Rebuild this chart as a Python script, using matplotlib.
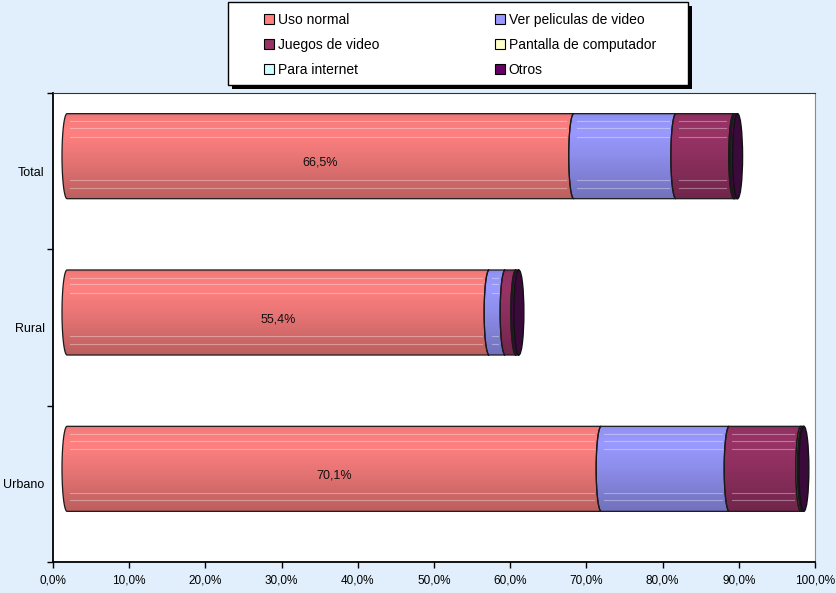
import numpy as np
import matplotlib.pyplot as plt
from matplotlib.patches import Polygon, Ellipse, Rectangle, Patch
from matplotlib.transforms import ScaledTranslation
from matplotlib.colors import to_rgb

plt.rcParams.update({'font.family': ['Liberation Sans', 'DejaVu Sans']})

categories = ['Urbano', 'Rural', 'Total']
series = ['Uso normal', 'Ver peliculas de video', 'Juegos de video',
          'Pantalla de computador', 'Para internet', 'Otros']
uso_normal = [70.1, 55.4, 66.5]
ver_peliculas = [16.8, 2.1, 13.4]
juegos_video = [9.4, 1.4, 7.6]
pantalla = [0.2, 0.1, 0.1]
internet = [0.0, 0.0, 0.1]
otros = [0.2, 0.3, 0.3]
xticks = [0, 10, 20, 30, 40, 50, 60, 70, 80, 90, 100]

colors = ['#FF8080', '#9999FF', '#993366', '#FFFFCC', '#CCFFFF', '#660066']
cap_color = '#3A0A3A'
BG = '#E0EFFB'

W, H, DPI = 836, 593, 100
fig = plt.figure(figsize=(W / DPI, H / DPI), dpi=DPI, facecolor=BG)
ax = fig.add_axes([53 / W, 1 - 562 / H, 762 / W, 469 / H], facecolor='white')
ax.set_xlim(0, 100)
ax.set_ylim(-0.5, 2.5)

# pseudo-3D: bars sit in front of the floor, shifted right and up
depth = ScaledTranslation(14 / DPI, 15 / DPI, fig.dpi_scale_trans)
tr = ax.transData + depth

bar_h = 0.544
a = 5.0 / (762 / 100)          # half-width of the end ellipses, in data units
t = np.linspace(0, np.pi, 40)


def shading(color, n=80):
    s = np.linspace(0, 1, n)
    f = np.interp(s, [0, 0.04, 0.22, 0.5, 1.0], [0.86, 0.96, 1.0, 0.92, 0.74])
    rgb = np.array(to_rgb(color))
    return np.clip(rgb[None, :] * f[:, None], 0, 1)[:, None, :]


def arc(x, yc):
    return np.column_stack([x - a * np.sin(t), yc + bar_h / 2 * np.cos(t)])


stack = np.array([uso_normal, ver_peliculas, juegos_video, pantalla, internet, otros])
for i, cat in enumerate(categories):
    left = 0.0
    for k, vals in enumerate(stack):
        v = vals[i]
        if v <= 0:
            continue
        x0, x1 = left, left + v
        verts = np.vstack([arc(x0, i), arc(x1, i)[::-1]])
        poly = Polygon(verts, closed=True, transform=tr, facecolor='none',
                       edgecolor='#1a1a1a', lw=0.9, zorder=3)
        ax.add_patch(poly)
        im = ax.imshow(shading(colors[k]), extent=(x0 - a, x1, i - bar_h / 2, i + bar_h / 2),
                       transform=tr, aspect='auto', interpolation='bilinear', zorder=2)
        im.set_clip_path(poly)
        if v > 2:
            for fr in [0.09, 0.17, 0.27, 0.78, 0.87]:
                yy = i + bar_h / 2 - fr * bar_h
                ln, = ax.plot([x0 + 0.4, x1 - a - 0.3], [yy, yy], color='white', alpha=0.35,
                              lw=0.8, transform=tr, zorder=2.5)
                ln.set_clip_path(poly)
        left = x1
    ax.add_patch(Ellipse((left, i), 2 * a, bar_h, transform=tr, facecolor=cap_color,
                         edgecolor='#111111', lw=1.0, zorder=4))
    ax.text(uso_normal[i] / 2, i - 0.042, f'{uso_normal[i]:.1f}%'.replace('.', ','),
            transform=tr, ha='center', va='center', fontsize=9,
            color='#111111', zorder=5)

# axes styling
ax.set_yticks(range(len(categories)))
ax.set_yticklabels(categories, fontsize=9)
ax.set_yticks([-0.5, 0.5, 1.5, 2.5], minor=True)
ax.tick_params(axis='y', which='major', length=0, pad=6)
ax.tick_params(axis='y', which='minor', length=4, width=1, direction='out')
ax.set_xticks(xticks)
ax.set_xticklabels([f'{v:.1f}%'.replace('.', ',') for v in xticks], fontsize=8.5)
ax.tick_params(axis='x', length=4, width=1, direction='out', pad=5)
for side in ['left', 'bottom']:
    ax.spines[side].set_linewidth(1.3)
    ax.spines[side].set_color('black')
ax.spines['top'].set_color('#333333')
ax.spines['right'].set_color('#8a8a8a')

# legend box with a hard drop shadow
bx, by, bw, bh = 228, 2, 460, 83
fig.patches.append(Rectangle(((bx + 4) / W, 1 - (by + bh + 4) / H), bw / W, bh / H,
                             transform=fig.transFigure, facecolor='black', zorder=1))
fig.patches.append(Rectangle((bx / W, 1 - (by + bh) / H), bw / W, bh / H,
                             transform=fig.transFigure, facecolor='white',
                             edgecolor='black', lw=1.0, zorder=2))
handles = [Patch(facecolor=c, edgecolor='black', lw=0.8) for c in colors]
order = [0, 2, 4, 1, 3, 5]
leg = fig.legend([handles[j] for j in order], [series[j] for j in order], ncol=2,
                 loc='center', mode='expand', frameon=False, fontsize=10,
                 bbox_to_anchor=(264 / W, 1 - 81 / H, (656 - 264) / W, 72 / H),
                 handlelength=0.7, handleheight=0.7, handletextpad=0.3,
                 labelspacing=0.78, borderpad=0, borderaxespad=0)
leg.set_zorder(3)

fig.savefig('out.png', dpi=DPI, facecolor=BG)
